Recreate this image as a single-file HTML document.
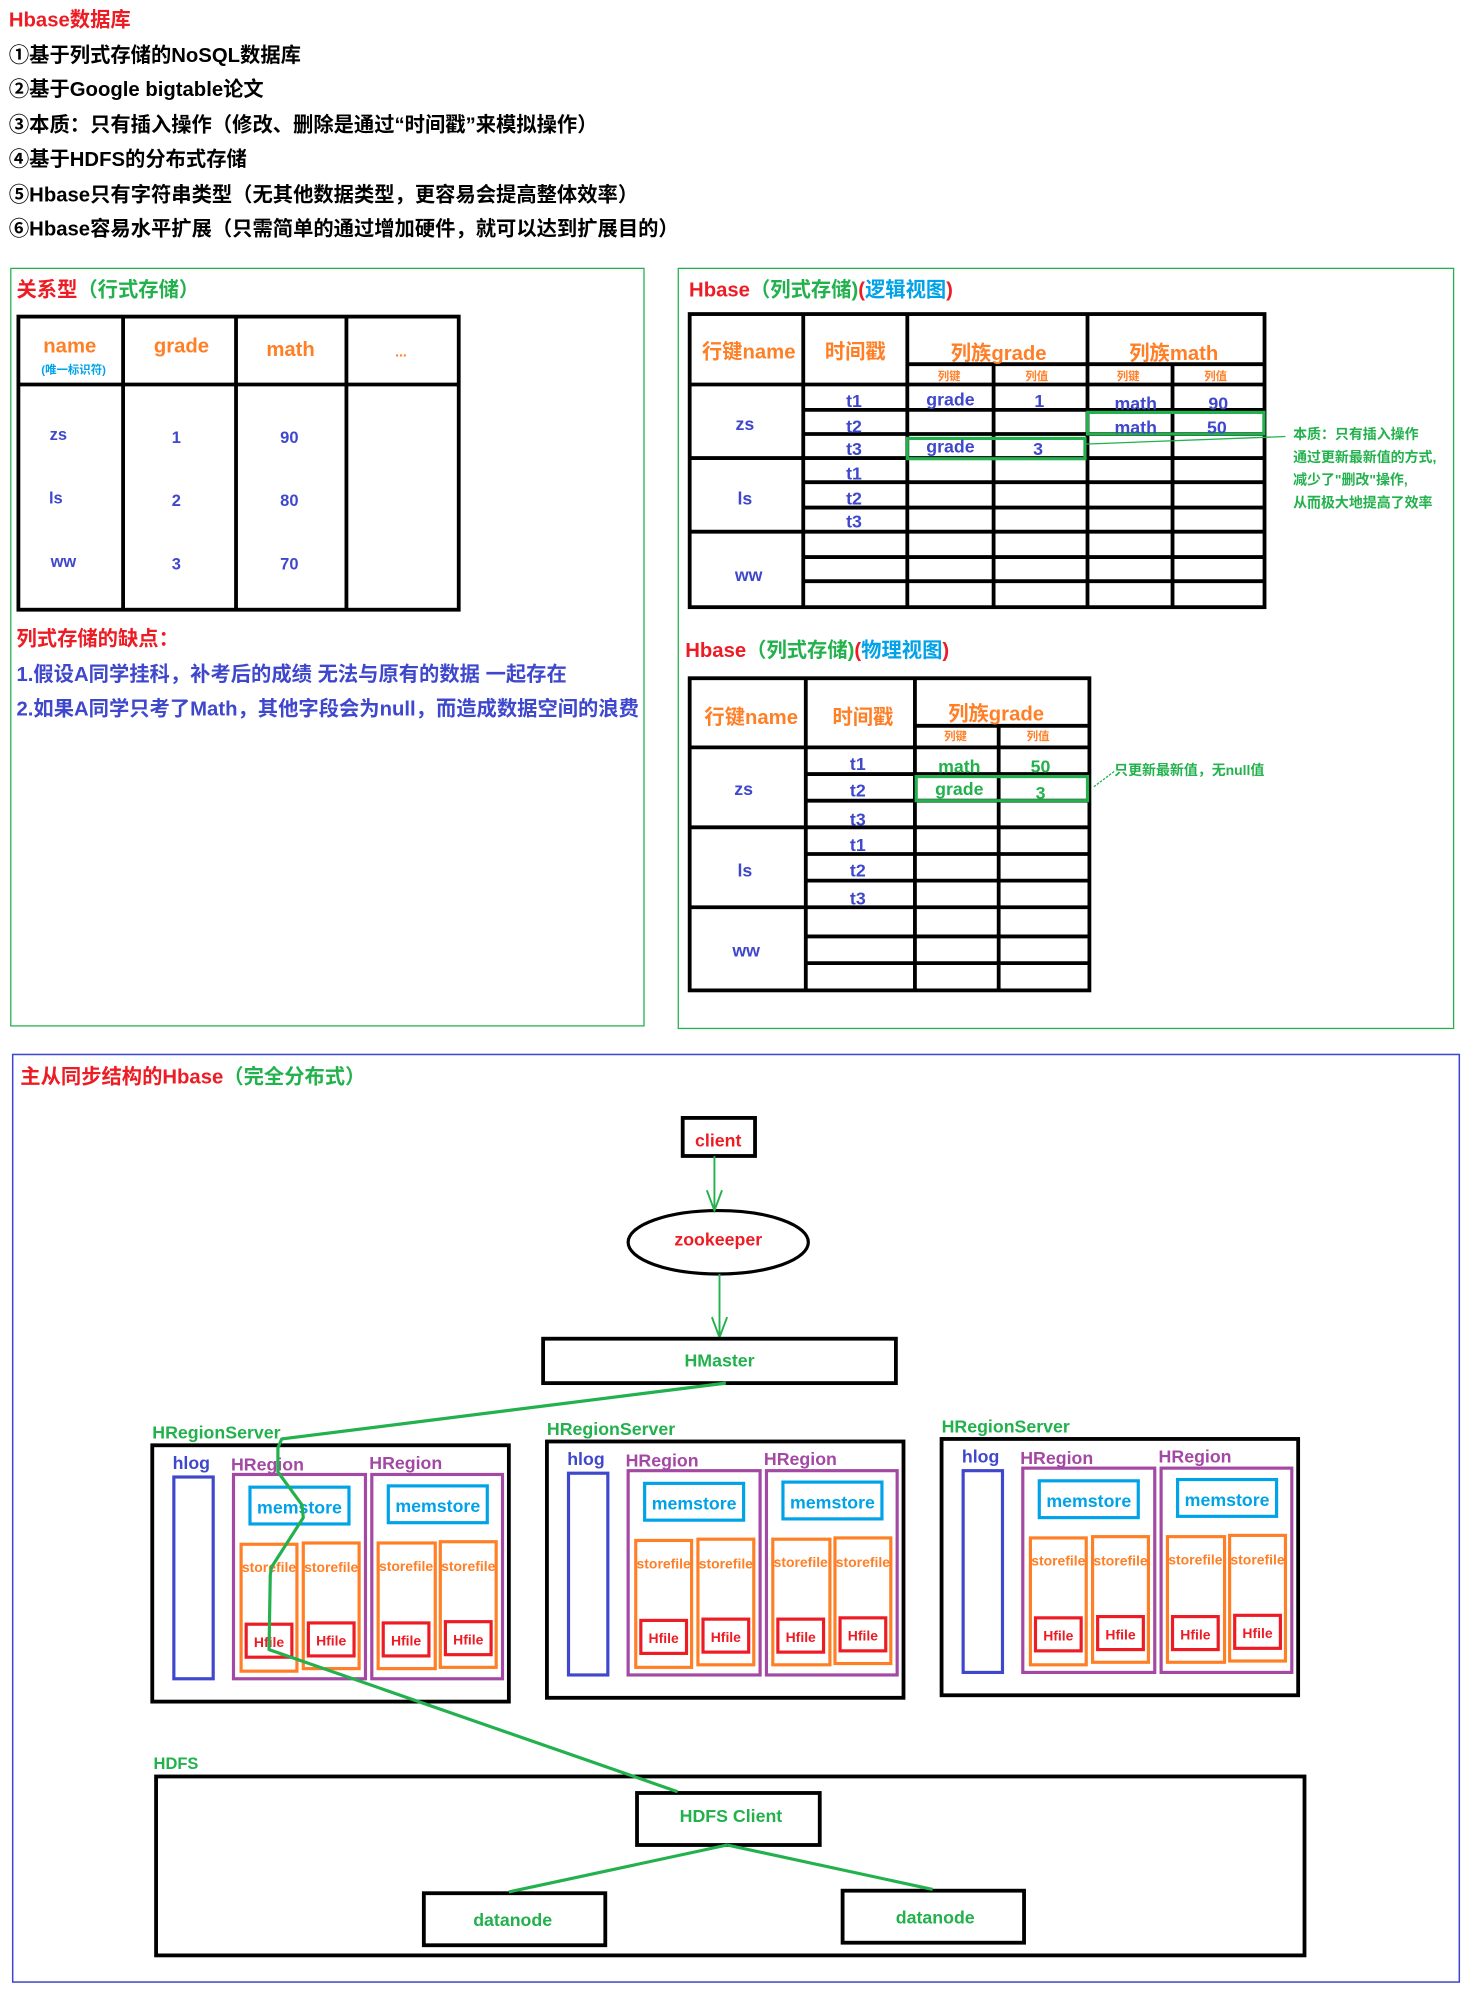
<!DOCTYPE html>
<html><head><meta charset="utf-8"><style>
html,body{margin:0;padding:0;background:#fff;}
svg{display:block;}
text{font-family:"Liberation Sans","Noto Sans CJK SC",sans-serif;font-weight:bold;}
</style></head><body>
<svg width="1472" height="1996" viewBox="0 0 1160 1573" preserveAspectRatio="none" xmlns="http://www.w3.org/2000/svg">
<rect x="0" y="0" width="1160" height="1573" fill="#fff"/>
<g dominant-baseline="central" font-size="16">
<text x="7" y="16" fill="#ed1c24" font-size="16">Hbase数据库</text>
<text x="7" y="44" fill="#000">①基于列式存储的NoSQL数据库</text>
<text x="7" y="71" fill="#000">②基于Google bigtable论文</text>
<text x="7" y="99" fill="#000">③本质：只有插入操作（修改、删除是通过“时间戳”来模拟操作）</text>
<text x="7" y="126" fill="#000">④基于HDFS的分布式存储</text>
<text x="7" y="154" fill="#000">⑤Hbase只有字符串类型（无其他数据类型，更容易会提高整体效率）</text>
<text x="7" y="181" fill="#000">⑥Hbase容易水平扩展（只需简单的通过增加硬件，就可以达到扩展目的）</text>
</g>

<rect x="8.5" y="211.5" width="499" height="597" fill="none" stroke="#22b14c" stroke-width="1"/>
<text x="13" y="229" dominant-baseline="central" font-size="16"><tspan fill="#ed1c24">关系型</tspan><tspan fill="#22b14c">（行式存储）</tspan></text>
<g stroke="#000" stroke-width="3" fill="none">
<rect x="14.5" y="249.5" width="347" height="231"/>
<line x1="97" y1="249" x2="97" y2="481"/><line x1="186" y1="249" x2="186" y2="481"/><line x1="273" y1="249" x2="273" y2="481"/>
<line x1="14" y1="303" x2="362" y2="303"/>
</g>
<g dominant-baseline="central" text-anchor="middle" font-size="16" fill="#ff7f27">
<text x="55" y="273">name</text><text x="143" y="273">grade</text><text x="229" y="276">math</text><text x="316" y="277" font-size="11">...</text>
</g>
<text x="58" y="292" dominant-baseline="central" text-anchor="middle" font-size="9" fill="#00a2e8">(唯一标识符)</text>
<g dominant-baseline="central" text-anchor="middle" font-size="13" fill="#3f48cc">
<text x="46" y="343">zs</text><text x="139" y="345">1</text><text x="228" y="345">90</text>
<text x="44" y="393">ls</text><text x="139" y="395">2</text><text x="228" y="395">80</text>
<text x="50" y="443">ww</text><text x="139" y="445">3</text><text x="228" y="445">70</text>
</g>
<text x="13" y="504" dominant-baseline="central" font-size="16" fill="#ed1c24">列式存储的缺点：</text>
<text x="13" y="532" dominant-baseline="central" font-size="16" fill="#3f48cc">1.假设A同学挂科，补考后的成绩 无法与原有的数据 一起存在</text>
<text x="13" y="559" dominant-baseline="central" font-size="16" fill="#3f48cc">2.如果A同学只考了Math，其他字段会为null，而造成数据空间的浪费</text>

<rect x="534.5" y="211.5" width="611" height="599" fill="none" stroke="#22b14c" stroke-width="1"/>
<text x="543" y="229" dominant-baseline="central" font-size="16"><tspan fill="#ed1c24">Hbase</tspan><tspan fill="#22b14c">（列式存储)</tspan><tspan fill="#ed1c24">(</tspan><tspan fill="#00a2e8">逻辑视图</tspan><tspan fill="#ed1c24">)</tspan></text>
<g stroke="#000" stroke-width="3" fill="none">
<rect x="543.5" y="247.5" width="453" height="231"/>
<line x1="633" y1="247" x2="633" y2="479"/><line x1="715" y1="247" x2="715" y2="479"/><line x1="783" y1="287" x2="783" y2="479"/><line x1="857" y1="247" x2="857" y2="479"/><line x1="924" y1="287" x2="924" y2="479"/>
<line x1="715" y1="287" x2="997" y2="287"/>
<line x1="543" y1="303" x2="997" y2="303"/>
<line x1="633" y1="323" x2="997" y2="323"/><line x1="633" y1="342" x2="997" y2="342"/>
<line x1="543" y1="361" x2="997" y2="361"/>
<line x1="633" y1="380" x2="997" y2="380"/><line x1="633" y1="400" x2="997" y2="400"/>
<line x1="543" y1="419" x2="997" y2="419"/>
<line x1="633" y1="439" x2="997" y2="439"/><line x1="633" y1="458" x2="997" y2="458"/>
</g>
<g stroke="#22b14c" stroke-width="2.5" fill="none">
<rect x="857" y="325" width="139" height="17"/>
<rect x="715" y="345.5" width="140" height="16"/>
</g>
<line x1="855" y1="350" x2="1013" y2="344" stroke="#22b14c" stroke-width="1"/>
<g dominant-baseline="central" font-size="11" fill="#22b14c">
<text x="1019" y="342">本质：只有插入操作</text>
<text x="1019" y="360">通过更新最新值的方式,</text>
<text x="1019" y="378">减少了"删改"操作,</text>
<text x="1019" y="396">从而极大地提高了效率</text>
</g>
<g dominant-baseline="central" text-anchor="middle" font-size="16" fill="#ff7f27">
<text x="590" y="278">行键name</text><text x="674" y="278">时间戳</text><text x="787" y="279">列族grade</text><text x="925" y="279">列族math</text>
</g>
<g dominant-baseline="central" text-anchor="middle" font-size="9" fill="#ff7f27" font-weight="normal">
<text x="748" y="297">列键</text><text x="817" y="297">列值</text><text x="889" y="297">列键</text><text x="958" y="297">列值</text>
</g>
<g dominant-baseline="central" text-anchor="middle" font-size="14" fill="#3f48cc">
<text x="587" y="334">zs</text><text x="587" y="393">ls</text><text x="590" y="453">ww</text>
<text x="673" y="316">t1</text><text x="673" y="336">t2</text><text x="673" y="354">t3</text>
<text x="673" y="373">t1</text><text x="673" y="393">t2</text><text x="673" y="411">t3</text>
<text x="749" y="315">grade</text><text x="819" y="316">1</text>
<text x="895" y="318">math</text><text x="960" y="318">90</text>
<text x="895" y="337">math</text><text x="959" y="337">50</text>
<text x="749" y="352">grade</text><text x="818" y="354">3</text>
</g>

<text x="540" y="513" dominant-baseline="central" font-size="16"><tspan fill="#ed1c24">Hbase</tspan><tspan fill="#22b14c">（列式存储)</tspan><tspan fill="#ed1c24">(</tspan><tspan fill="#00a2e8">物理视图</tspan><tspan fill="#ed1c24">)</tspan></text>
<g stroke="#000" stroke-width="3" fill="none">
<rect x="543.5" y="534.5" width="315" height="246"/>
<line x1="635" y1="534" x2="635" y2="781"/><line x1="721" y1="534" x2="721" y2="781"/><line x1="787" y1="572" x2="787" y2="781"/>
<line x1="721" y1="572" x2="859" y2="572"/>
<line x1="543" y1="589" x2="859" y2="589"/>
<line x1="635" y1="610" x2="859" y2="610"/><line x1="635" y1="631" x2="859" y2="631"/>
<line x1="543" y1="652" x2="859" y2="652"/>
<line x1="635" y1="673" x2="859" y2="673"/><line x1="635" y1="694" x2="859" y2="694"/>
<line x1="543" y1="715" x2="859" y2="715"/>
<line x1="635" y1="738" x2="859" y2="738"/><line x1="635" y1="759" x2="859" y2="759"/>
</g>
<rect x="722" y="612" width="135" height="19" fill="none" stroke="#22b14c" stroke-width="2.5"/>
<line x1="862" y1="620" x2="878" y2="608" stroke="#22b14c" stroke-width="1" stroke-dasharray="2,1"/>
<text x="878" y="607" dominant-baseline="central" font-size="11" fill="#22b14c">只更新最新值，无null值</text>
<g dominant-baseline="central" text-anchor="middle" font-size="16" fill="#ff7f27">
<text x="592" y="566">行键name</text><text x="680" y="566">时间戳</text><text x="785" y="563">列族grade</text>
</g>
<g dominant-baseline="central" text-anchor="middle" font-size="9" fill="#ff7f27" font-weight="normal">
<text x="753" y="581">列键</text><text x="818" y="581">列值</text>
</g>
<g dominant-baseline="central" text-anchor="middle" font-size="14" fill="#3f48cc">
<text x="586" y="622">zs</text><text x="587" y="686">ls</text><text x="588" y="749">ww</text>
<text x="676" y="602">t1</text><text x="676" y="623">t2</text><text x="676" y="646">t3</text>
<text x="676" y="666">t1</text><text x="676" y="686">t2</text><text x="676" y="708">t3</text>
</g>
<g dominant-baseline="central" text-anchor="middle" font-size="14" fill="#22b14c">
<text x="756" y="604">math</text><text x="820" y="604">50</text><text x="756" y="622">grade</text><text x="820" y="625">3</text>
</g>

<rect x="10" y="831" width="1140" height="731" fill="none" stroke="#3f48cc" stroke-width="1.2"/>
<text x="16" y="849" dominant-baseline="central" font-size="16"><tspan fill="#ed1c24">主从同步结构的Hbase</tspan><tspan fill="#22b14c">（完全分布式）</tspan></text>

<rect x="538" y="881" width="57" height="30" fill="none" stroke="#000" stroke-width="3"/>
<text x="566" y="899" dominant-baseline="central" text-anchor="middle" font-size="14" fill="#ed1c24">client</text>
<ellipse cx="566" cy="979" rx="71" ry="25" fill="none" stroke="#000" stroke-width="2.5"/>
<text x="566" y="977" dominant-baseline="central" text-anchor="middle" font-size="14" fill="#ed1c24">zookeeper</text>
<g stroke="#22b14c" stroke-width="1.5" fill="none">
<line x1="563" y1="911" x2="563" y2="954"/><polyline points="557,938 563,954 569,938"/>
<line x1="567" y1="1004" x2="567" y2="1054"/><polyline points="561,1038 567,1054 573,1038"/>
</g>
<rect x="428" y="1055" width="278" height="35" fill="none" stroke="#000" stroke-width="3"/>
<text x="567" y="1072" dominant-baseline="central" text-anchor="middle" font-size="14" fill="#22b14c">HMaster</text>

<defs>
<g id="srv">
<text x="120" y="1129" dominant-baseline="central" font-size="14" fill="#22b14c">HRegionServer</text>
<rect x="120" y="1139" width="281" height="202" fill="none" stroke="#000" stroke-width="3"/>
<text x="136" y="1153" dominant-baseline="central" font-size="14" fill="#3f48cc">hlog</text>
<rect x="137" y="1164" width="31" height="159" fill="none" stroke="#3f48cc" stroke-width="2.5"/>
<text x="182" y="1154" dominant-baseline="central" font-size="14" fill="#a349a4">HRegion</text>
<text x="291" y="1153" dominant-baseline="central" font-size="14" fill="#a349a4">HRegion</text>
<rect x="184" y="1162" width="104" height="161" fill="none" stroke="#a349a4" stroke-width="2.5"/>
<rect x="293" y="1162" width="103" height="161" fill="none" stroke="#a349a4" stroke-width="2.5"/>
<rect x="197" y="1172" width="78" height="29" fill="none" stroke="#00a2e8" stroke-width="2.5"/>
<rect x="306" y="1171" width="78" height="29" fill="none" stroke="#00a2e8" stroke-width="2.5"/>
<text x="236" y="1188" dominant-baseline="central" text-anchor="middle" font-size="14" fill="#00a2e8">memstore</text>
<text x="345" y="1187" dominant-baseline="central" text-anchor="middle" font-size="14" fill="#00a2e8">memstore</text>
<g fill="none" stroke="#ff7f27" stroke-width="2.5">
<rect x="190" y="1217" width="44" height="100"/><rect x="239" y="1216" width="44" height="99"/>
<rect x="298" y="1216" width="45" height="99"/><rect x="347" y="1215" width="44" height="99"/>
</g>
<g font-size="11" fill="#ff7f27" dominant-baseline="central" text-anchor="middle">
<text x="212" y="1235">storefile</text><text x="261" y="1235">storefile</text><text x="320" y="1234">storefile</text><text x="369" y="1234">storefile</text>
</g>
<g fill="none" stroke="#ed1c24" stroke-width="2.5">
<rect x="194" y="1280" width="36" height="26"/><rect x="243" y="1279" width="36" height="26"/>
<rect x="302" y="1279" width="36" height="26"/><rect x="351" y="1278" width="36" height="26"/>
</g>
<g font-size="11" fill="#ed1c24" dominant-baseline="central" text-anchor="middle">
<text x="212" y="1294">Hfile</text><text x="261" y="1293">Hfile</text><text x="320" y="1293">Hfile</text><text x="369" y="1292">Hfile</text>
</g>
</g>
</defs>
<use href="#srv"/>
<use href="#srv" transform="translate(311,-3)"/>
<use href="#srv" transform="translate(622,-5)"/>

<text x="121" y="1390" dominant-baseline="central" font-size="13" fill="#22b14c">HDFS</text>
<rect x="123" y="1400" width="905" height="141" fill="none" stroke="#000" stroke-width="3"/>
<rect x="502" y="1413" width="144" height="41" fill="none" stroke="#000" stroke-width="3"/>
<text x="576" y="1431" dominant-baseline="central" text-anchor="middle" font-size="14" fill="#22b14c">HDFS Client</text>
<rect x="334" y="1492" width="143" height="41" fill="none" stroke="#000" stroke-width="3"/>
<text x="404" y="1513" dominant-baseline="central" text-anchor="middle" font-size="14" fill="#22b14c">datanode</text>
<rect x="664" y="1490" width="143" height="41" fill="none" stroke="#000" stroke-width="3"/>
<text x="737" y="1511" dominant-baseline="central" text-anchor="middle" font-size="14" fill="#22b14c">datanode</text>

<g stroke="#22b14c" stroke-width="2.5" fill="none" stroke-linejoin="round">
<polyline points="572,1090 222,1134 219,1141 219,1160 238,1186 239,1196 214,1235 213,1241 212,1300 534,1412"/>
<line x1="573" y1="1454" x2="401" y2="1491"/>
<line x1="573" y1="1454" x2="735" y2="1489"/>
</g>
</svg>
</body></html>
